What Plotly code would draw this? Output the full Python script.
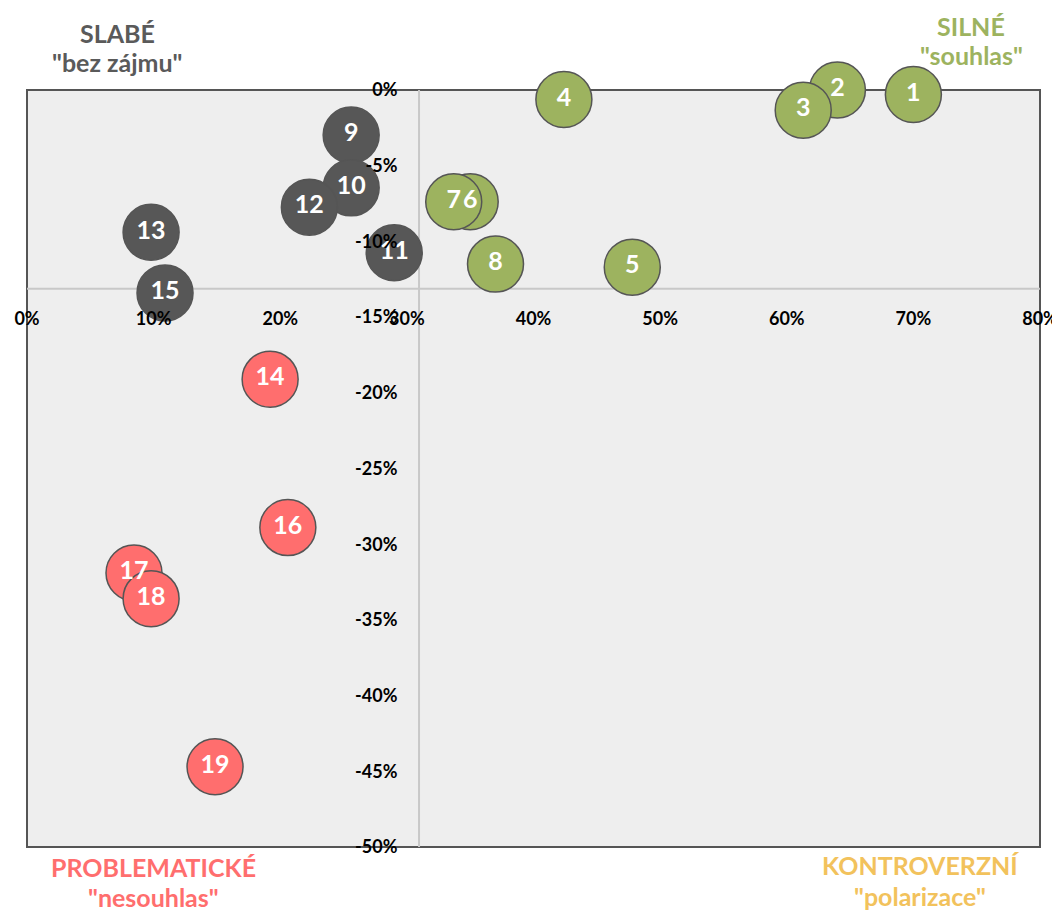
import plotly.graph_objects as go

# ---- data ----
ids = ["1", "2", "3", "4", "5", "6", "7", "8",
       "9", "10", "11", "12", "13", "15",
       "14", "16", "17", "18", "19"]
x_vals = [70.0, 64.0, 61.3, 42.4, 47.8, 35.0, 33.7, 37.0,
          25.6, 25.6, 29.0, 22.3, 9.8, 10.9,
          19.2, 20.6, 8.45, 9.8, 14.85]
y_vals = [-0.3, 0.0, -1.33, -0.63, -11.7, -7.38, -7.38, -11.5,
          -2.98, -6.46, -10.75, -7.74, -9.4, -13.4,
          -19.1, -28.9, -31.9, -33.6, -44.7]
groups = ["silne"] * 8 + ["slabe"] * 6 + ["problem"] * 5

x_cross = 30.96
y_cross = -13.13
x_range = [0, 80]
y_range = [-50, 0]
x_ticks = [0, 10, 20, 30, 40, 50, 60, 70, 80]
x_ticktext = ["0%", "10%", "20%", "30%", "40%", "50%", "60%", "70%", "80%"]
y_ticks = [0, -5, -10, -15, -20, -25, -30, -35, -40, -45, -50]
y_ticktext = ["0%", "-5%", "-10%", "-15%", "-20%", "-25%", "-30%", "-35%",
              "-40%", "-45%", "-50%"]

colors = {"silne": "#9DB35F", "slabe": "#575757", "problem": "#FF6E6E"}
group_order = ["silne", "slabe", "problem"]

FONT = "Lato"

fig = go.Figure()
for g in group_order:
    idx = [i for i, gg in enumerate(groups) if gg == g]
    fig.add_trace(go.Scatter(
        x=[x_vals[i] for i in idx],
        y=[y_vals[i] for i in idx],
        text=[ids[i] for i in idx],
        mode="markers+text",
        textposition="middle center",
        textfont=dict(family=FONT, size=25, color="white", weight="bold"),
        marker=dict(size=56, color=colors[g],
                    line=dict(color="#555555", width=1.5), opacity=1),
        cliponaxis=False,
        showlegend=False,
        hoverinfo="skip",
    ))

# crossing lines and frame
fig.add_shape(type="line", xref="x", yref="y", x0=x_cross, x1=x_cross,
              y0=y_range[0], y1=y_range[1], line=dict(color="#C8C8C8", width=2), layer="below")
fig.add_shape(type="line", xref="x", yref="y", x0=x_range[0], x1=x_range[1],
              y0=y_cross, y1=y_cross, line=dict(color="#C8C8C8", width=2), layer="below")
fig.add_shape(type="rect", xref="paper", yref="paper", x0=0, x1=1, y0=0, y1=1,
              line=dict(color="#555555", width=2), layer="below")

fig.update_layout(
    width=1052, height=904,
    margin=dict(l=19, r=20, t=82, b=65),
    paper_bgcolor="white",
    plot_bgcolor="#EEEEEE",
    font=dict(family=FONT, size=18, color="black"),
    xaxis=dict(range=x_range, tickvals=x_ticks, ticktext=x_ticktext,
               showgrid=False, zeroline=False, showline=False, automargin=False,
               anchor="free", position=(y_cross - y_range[0]) / (y_range[1] - y_range[0]),
               ticks="outside", ticklen=14, tickcolor="rgba(0,0,0,0)",
               tickfont=dict(family=FONT, size=18, color="black", weight="bold")),
    yaxis=dict(range=y_range, tickvals=y_ticks, ticktext=y_ticktext,
               showgrid=False, zeroline=False, showline=False, automargin=False,
               anchor="free", position=(x_cross - x_range[0]) / (x_range[1] - x_range[0]),
               ticks="outside", ticklen=18, tickcolor="rgba(0,0,0,0)",
               tickfont=dict(family=FONT, size=18, color="black", weight="bold")),
)

def px_to_paper(px, py):
    return (px - 27) / 1013, (847.5 - py) / 757

quad_labels = [
    ("SLABÉ", 117, 33, "#5A5A5A"),
    ("\"bez zájmu\"", 117, 63, "#5A5A5A"),
    ("SILNÉ", 971, 26, "#9DB35F"),
    ("\"souhlas\"", 971, 56, "#9DB35F"),
    ("PROBLEMATICKÉ", 153, 868, "#FF6E6E"),
    ("\"nesouhlas\"", 153, 897, "#FF6E6E"),
    ("KONTROVERZNÍ", 920, 865, "#F2C25C"),
    ("\"polarizace\"", 920, 896, "#F2C25C"),
]
for txt, px, py, col in quad_labels:
    ax, ay = px_to_paper(px, py)
    fig.add_annotation(text=txt, x=ax, y=ay, xref="paper", yref="paper",
                       xanchor="center", yanchor="middle", showarrow=False,
                       font=dict(family=FONT, size=25, color=col, weight="bold"))

fig.write_html("out.html")
